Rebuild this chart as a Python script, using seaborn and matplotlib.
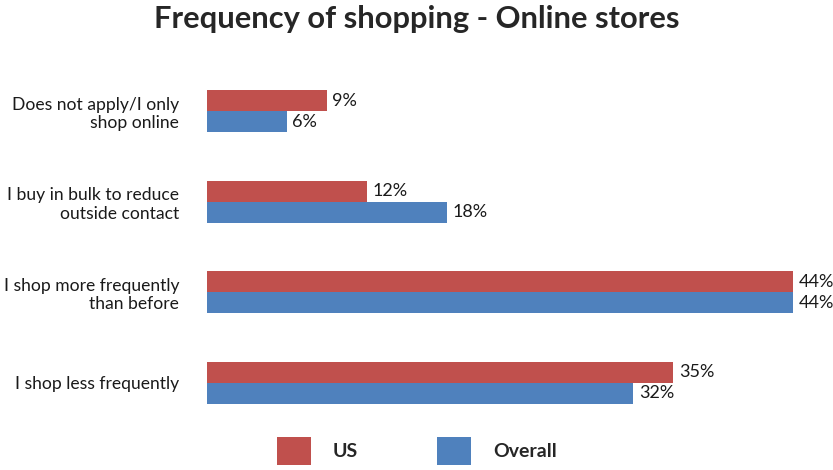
import pandas as pd
import seaborn as sns
import matplotlib.pyplot as plt
from matplotlib.patches import Patch

# ----------------------------------
# Data
# ----------------------------------
categories = [
    "Does not apply/I only\nshop online",
    "I buy in bulk to reduce\noutside contact",
    "I shop more frequently\nthan before",
    "I shop less frequently",
]
us_values = [9, 12, 44, 35]
overall_values = [6, 18, 44, 32]
series_names = ["US", "Overall"]
colors = ["#C0504D", "#4F81BD"]

df = pd.DataFrame({
    "Category": categories * 2,
    "Value": us_values + overall_values,
    "Group": [series_names[0]] * len(categories) + [series_names[1]] * len(categories),
})

# ----------------------------------
# Plot
# ----------------------------------
sns.set_style("white")
plt.rcParams["font.family"] = ["Lato", "DejaVu Sans"]

fig = plt.figure(figsize=(8.33, 4.70), dpi=100)
ax = fig.add_axes([207 / 833, 0.0894, 1 - 207 / 833, 0.8596 - 0.0894])

sns.barplot(data=df, y="Category", x="Value", hue="Group", orient="h",
            order=categories, hue_order=series_names, palette=colors,
            width=0.464, saturation=1, linewidth=0, legend=False, ax=ax)

for container in ax.containers:
    ax.bar_label(container, fmt="%g%%", padding=4, fontsize=13, color="#1a1a1a")

ax.set_xlim(0, 47)
ax.set_ylim(3.5, -0.5)
ax.set_xlabel("")
ax.set_ylabel("")
ax.set_xticks([])
ax.tick_params(axis="y", length=0, pad=20, labelsize=12.6, labelcolor="#1a1a1a")
for label in ax.get_yticklabels():
    label.set_horizontalalignment("right")
    label.set_multialignment("right")
sns.despine(ax=ax, left=True, bottom=True)

fig.suptitle("Frequency of shopping - Online stores", fontsize=22.2, fontweight="bold",
             x=0.5, y=0.99, va="top")

handles = [Patch(facecolor=c, edgecolor="none") for c in colors]
leg = fig.legend(handles, series_names, ncol=2, loc="upper left",
                 bbox_to_anchor=(277 / 833, 1 - 437 / 470), frameon=False,
                 borderpad=0, borderaxespad=0,
                 handlelength=1.75, handleheight=1.85, columnspacing=4.05,
                 handletextpad=1.13, prop={"size": 14, "weight": "bold"})

plt.savefig("out.png", dpi=100)
